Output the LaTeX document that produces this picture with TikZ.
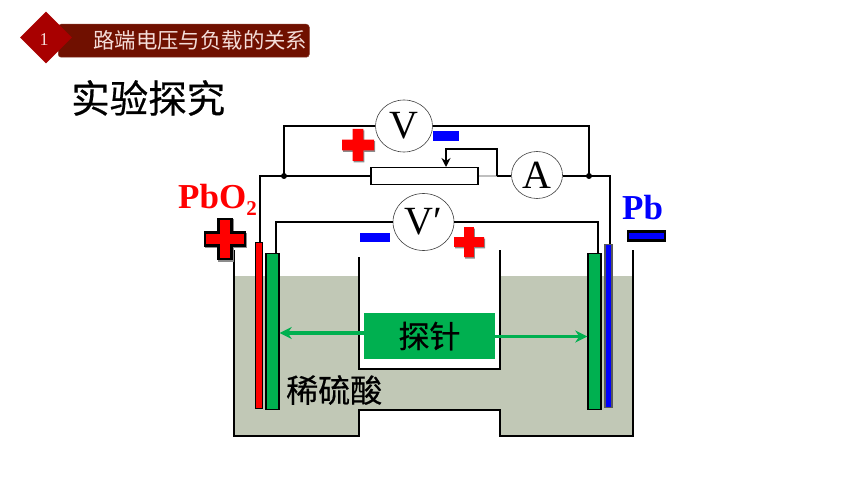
\documentclass[tikz,border=0pt]{standalone}
\usepackage{fontspec}
\setmainfont{Liberation Serif}
\newfontfamily\cjk{Noto Sans CJK SC}
\newfontfamily\cjkb[FakeBold=0.5]{Noto Sans CJK SC}
\usetikzlibrary{shapes.geometric,arrows.meta,calc}
\definecolor{dkred}{HTML}{A80000}
\definecolor{banner}{HTML}{701000}
\definecolor{liquid}{HTML}{C1C8B6}
\definecolor{probe}{HTML}{00B050}
\definecolor{pale}{HTML}{F4DCD8}
\definecolor{shade}{HTML}{8C8C8C}
\tikzset{
  x=1pt,y=-1pt,
  wire/.style={draw=black,line width=1.8pt},
  wall/.style={draw=black,line width=1.5pt},
  meter/.style={ellipse,draw=black!75,line width=.6pt,fill=white,inner sep=0pt},
  metertext/.style={font=\fontsize{40}{40}\selectfont},
  plate/.style={rectangle,inner sep=0pt,minimum width=#1,anchor=north},
  junction/.style={circle,fill=black,inner sep=0pt,minimum size=6pt},
  probearrow/.style={draw=probe,line width=3.4pt,-{Stealth[length=12pt,width=12pt]}},
  crossm/.pic={\path[pic actions] (-1,-.33)--(-.33,-.33)--(-.33,-1)--(.33,-1)--(.33,-.33)--(1,-.33)--(1,.33)--(.33,.33)--(.33,1)--(-.33,1)--(-.33,.33)--(-1,.33)--cycle;},
  dash bar/.style={rectangle,inner sep=0pt,fill=blue}
}
\begin{document}
\begin{tikzpicture}
\useasboundingbox (0,0) rectangle (860,484);
% header
\node[rectangle,rounded corners=3pt,fill=banner,draw=banner!85!white,line width=.5pt,minimum width=251pt,minimum height=33pt,inner sep=0pt,anchor=north west] (bar) at (58,24) {};
\node[diamond,aspect=1,fill=dkred,minimum width=52pt,minimum height=52pt,inner sep=0pt] (num) at (46,37.5) {};
\node[text=pale,font=\fontsize{18}{18}\selectfont] (numtext) at (44,39.5) {1};
\node[text=pale,font=\cjk\fontsize{21.4}{22}\selectfont,anchor=west,inner sep=0pt] (head) at (93,40.5) {路端电压与负载的关系};
\node[font=\cjkb\fontsize{38.5}{39}\selectfont,anchor=west,inner sep=0pt] (title) at (71,98) {实验探究};
% liquid
\fill[liquid] (234,276)--(359,276)--(359,369)--(500,369)--(500,276)--(633,276)--(633,436)--(500,436)--(500,410)--(359,410)--(359,436)--(234,436)--cycle;
% vessel
\draw[wall,line join=miter] (234,250)--(234,436)--(359,436)--(359,410)--(500,410)--(500,436)--(633,436)--(633,250);
\draw[wall] (359,257)--(359,369)--(500,369)--(500,250);
% plates
\node[plate=7pt,minimum height=166pt,fill=red,draw=black,line width=1.3pt] (pbo) at (259,242) {};
\node[plate=13pt,minimum height=156pt,fill=probe,draw=black,line width=1.4pt] (gl) at (272.5,253) {};
\node[plate=13pt,minimum height=156pt,fill=probe,draw=black,line width=1.4pt] (gr) at (594.5,253) {};
\node[plate=7pt,minimum height=163pt,fill=blue,draw=black!65,line width=1.4pt] (pb) at (608.5,244) {};
% meters
\node[meter,minimum width=57pt,minimum height=52pt,metertext] (vm) at (404,126) {V};
\node[meter,minimum width=51pt,minimum height=47pt,metertext] (am) at (537,175) {A};
\node[meter,minimum width=61pt,minimum height=57pt,metertext] (vp) at (423.5,222) {V′};
\node[rectangle,draw=black,line width=1.5pt,fill=white,minimum width=107pt,minimum height=17pt,inner sep=0pt] (rh) at (424.5,176) {};
\coordinate (jl) at (284,176);
\coordinate (jr) at (589,176);
\coordinate (ra) at (497,176);
% wires
\draw[wire] (vm.west) -| (jl);
\draw[wire] (vm.east) -| (jr);
\draw[wire] (rh.west) -- (jl) -- (260,176) -- (260,242);
\draw[wire] (am.east |- jr) -- (jr) -- (610,176) -- (610,244);
\draw[black!25,line width=1.5pt] (rh.east) -- (ra);
\draw[wire] (ra) -- (am.west |- ra);
\draw[wire,line join=miter,-{Stealth[length=9pt,width=9pt,inset=3pt]}] (ra) -- (497,149) -- (446,149) -- (446,167);
\draw[wire,line width=1.5pt] (vp.west) -- (276,222) -- (276,253);
\draw[wire,line width=1.5pt] (vp.east) -- (598,222) -- (598,253);
\node[junction] (dl) at (jl) {};
\node[junction] (dr) at (jr) {};
% probe
\node[rectangle,fill=probe,minimum width=131pt,minimum height=46pt,inner sep=0pt,font=\cjkb\fontsize{31}{31}\selectfont] (pr) at (429.5,336) {探针};
\draw[probearrow] (pr.west |- 0,333) -- (gl.east |- 0,333);
\draw[probearrow] (pr.east |- 0,336.5) -- (gr.west |- 0,336.5);
\node[font=\cjkb\fontsize{32}{32}\selectfont,anchor=west,inner sep=0pt] (acid) at (286,390) {稀硫酸};
% labels
\node[text=red,font=\bfseries\fontsize{35}{35}\selectfont,anchor=base west,inner sep=0pt] (lpbo) at (178,208.5) {PbO₂};
\node[text=blue,font=\bfseries\fontsize{35}{35}\selectfont,anchor=base west,inner sep=0pt] (lpb) at (622,219) {Pb};
% signs
\pic[shift={(1,1.5)},scale=16,fill=shade] at (358,145) {crossm};
\pic[scale=16,fill=red] at (358,145) {crossm};
\pic[shift={(1,1.5)},scale=15,fill=shade] at (469,242) {crossm};
\pic[scale=15,fill=red] at (469,242) {crossm};
\pic[shift={(1,1.5)},scale=20,fill=shade,draw=shade,line width=2.4pt] at (225,239) {crossm};
\pic[scale=20,fill=red,draw=black,line width=2.4pt] at (225,239) {crossm};
\node[dash bar,minimum width=26pt,minimum height=10pt] (m1) at (446,136.5) {};
\node[dash bar,minimum width=30pt,minimum height=9pt] (m2) at (375,237.5) {};
\node[dash bar,draw=black,line width=2.4pt,minimum width=37pt,minimum height=9pt] (m3) at (646.5,236) {};
\end{tikzpicture}
\end{document}
